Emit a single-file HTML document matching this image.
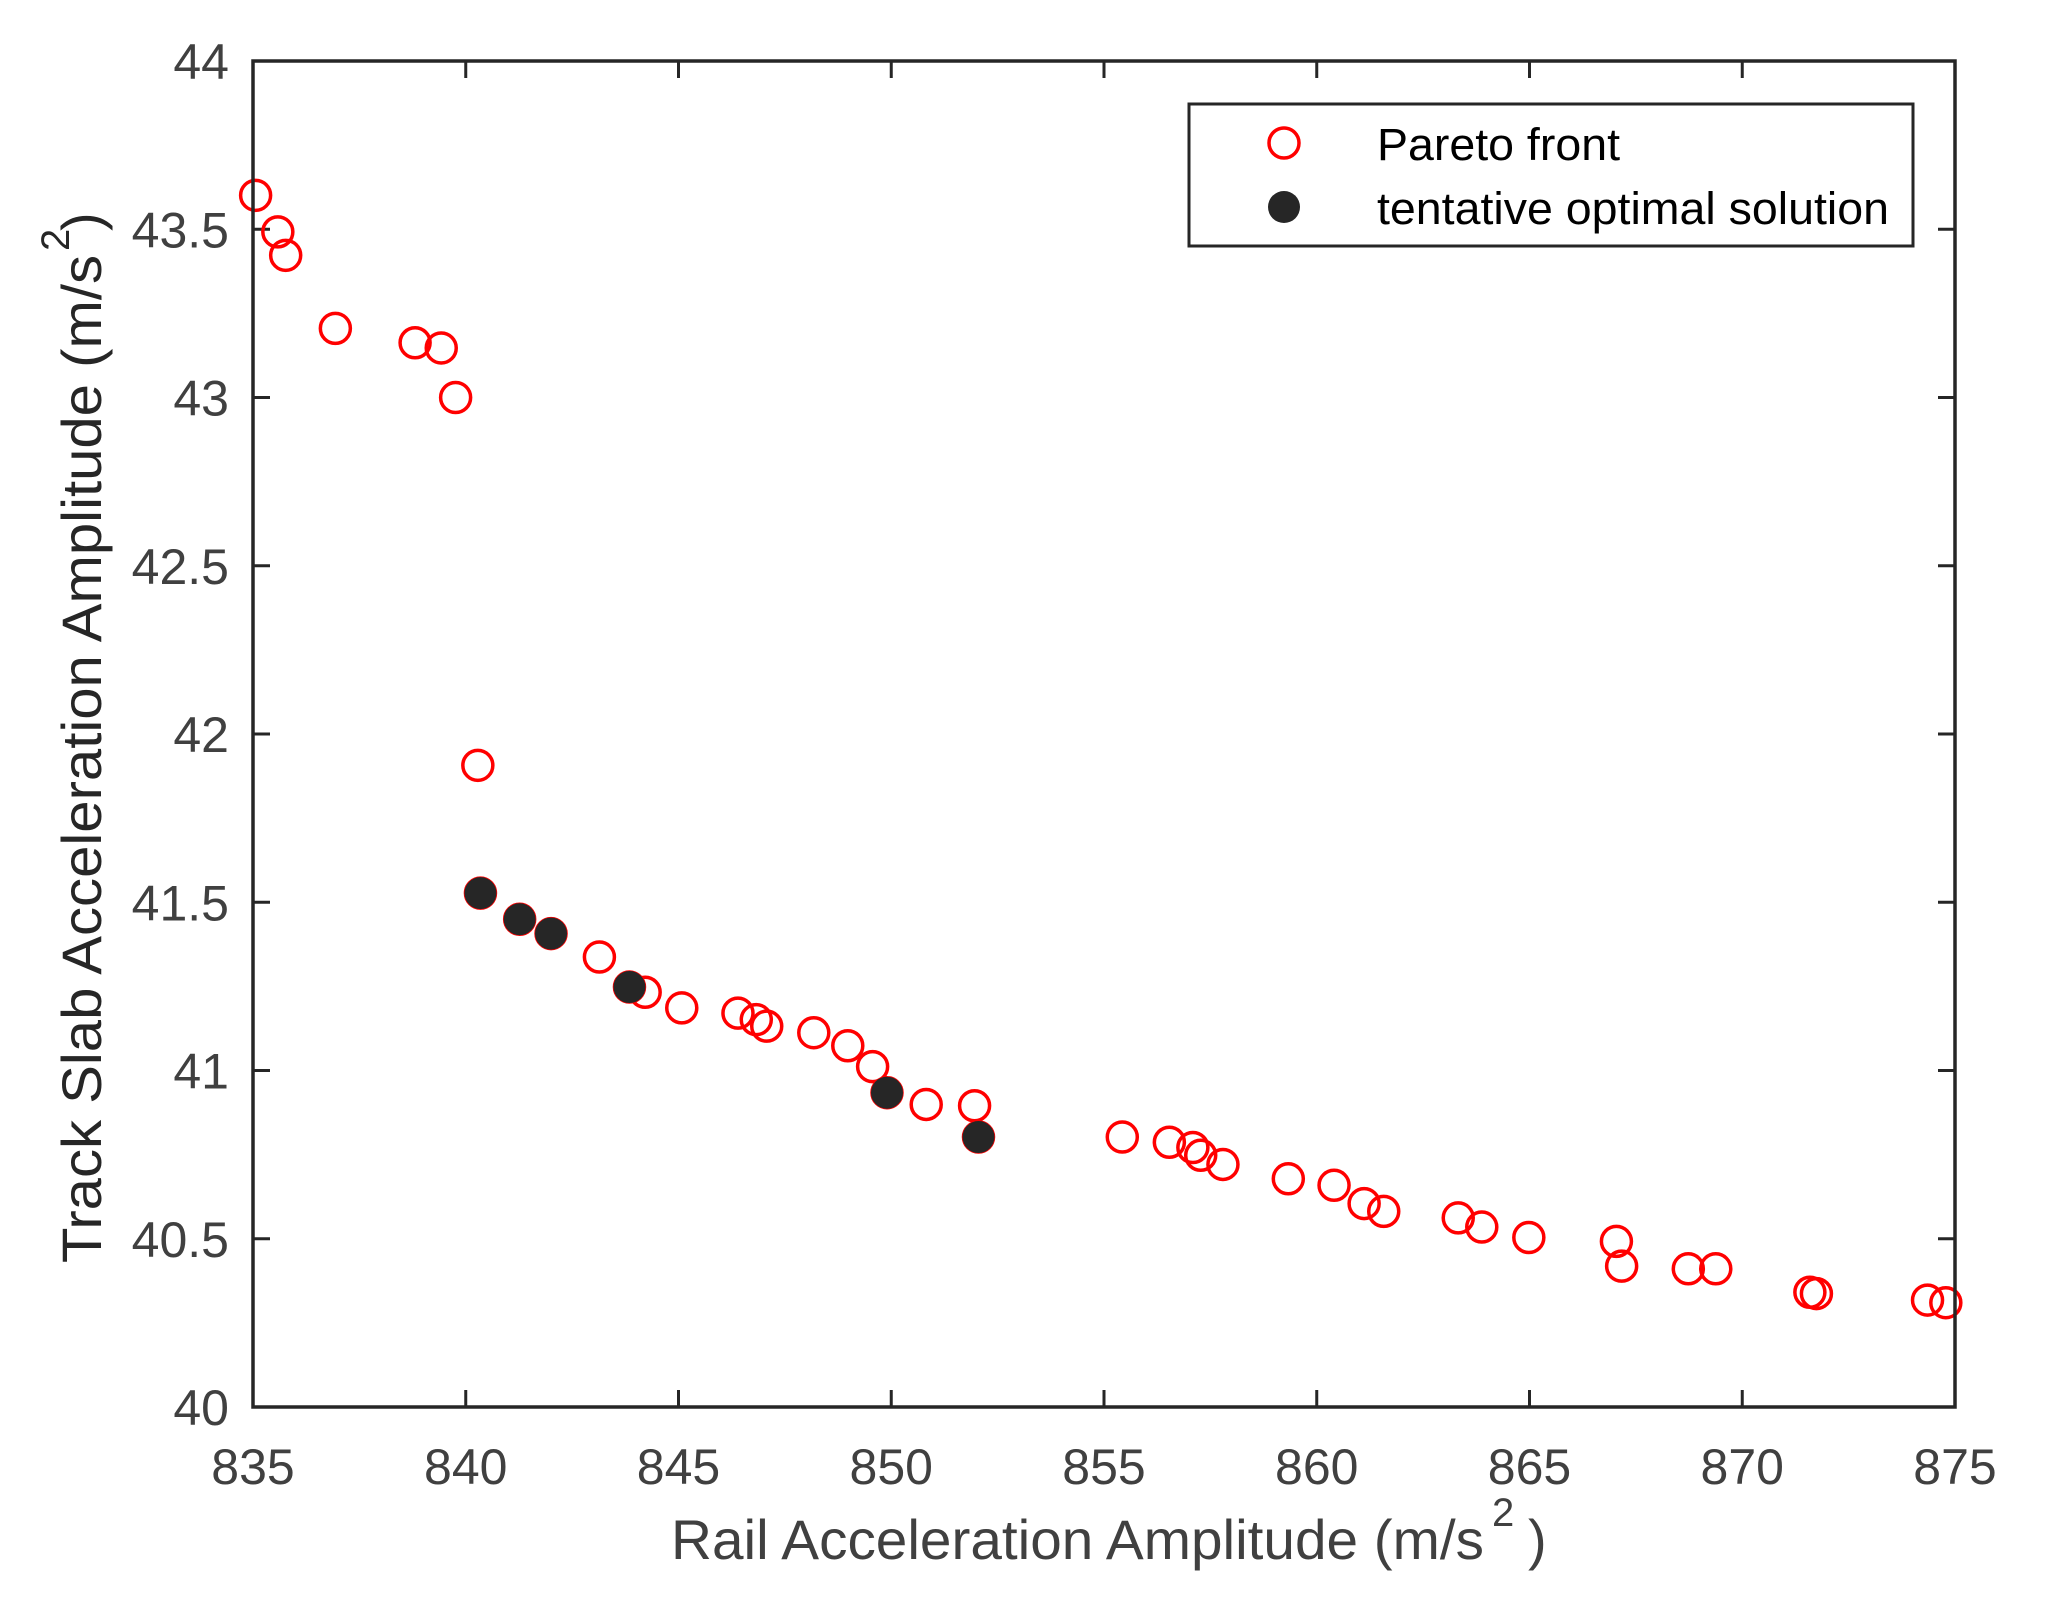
<!DOCTYPE html>
<html><head><meta charset="utf-8"><style>
html,body{margin:0;padding:0;background:#fff;}
svg{display:block;}
</style></head><body>
<svg id="s" width="2046" height="1615" xmlns="http://www.w3.org/2000/svg" font-family="Liberation Sans, Arial, sans-serif">
<rect width="2046" height="1615" fill="#fff"/>
<g id="ticks" stroke="#262626" stroke-width="3"></g>
<g id="pts"></g>
<rect x="253" y="61" width="1702" height="1346" fill="none" stroke="#262626" stroke-width="3.5"/>
<g id="lbl" fill="#404040" font-size="50"></g>
<text x="671" y="1559" font-size="56" fill="#404040" textLength="813" lengthAdjust="spacingAndGlyphs">Rail Acceleration Amplitude (m/s</text>
<text x="1492" y="1526" font-size="40" fill="#404040">2</text>
<text x="1528" y="1559" font-size="56" fill="#404040">)</text>
<g transform="translate(101,1263) rotate(-90)">
<text x="0" y="0" font-size="56" fill="#262626" textLength="1008" lengthAdjust="spacingAndGlyphs">Track Slab Acceleration Amplitude (m/s</text>
<text x="1012" y="-32" font-size="40" fill="#262626">2</text>
<text x="1032" y="0" font-size="56" fill="#262626">)</text>
</g>
<rect x="1189" y="104" width="724" height="142" fill="#fff" stroke="#262626" stroke-width="3"/>
<circle cx="1284" cy="143" r="15" fill="none" stroke="#ff0000" stroke-width="3.5"/>
<circle cx="1284" cy="207" r="16" fill="#262626"/>
<text x="1377" y="160" font-size="45" fill="#000" textLength="243" lengthAdjust="spacingAndGlyphs">Pareto front</text>
<text x="1377" y="224" font-size="45" fill="#000" textLength="512" lengthAdjust="spacingAndGlyphs">tentative optimal solution</text>
</svg>
<script>
var NS="http://www.w3.org/2000/svg";
function el(t,a,p){var e=document.createElementNS(NS,t);for(var k in a)e.setAttribute(k,a[k]);p.appendChild(e);return e;}
var L=253,R=1955,T=61,B=1407;
function X(v){return L+(v-835)*(R-L)/40;}
function Y(v){return B-(v-40)*(B-T)/4;}
var tk=document.getElementById('ticks'),lb=document.getElementById('lbl');
for(var v=835;v<=875;v+=5){var x=X(v);
 el('line',{x1:x,y1:B,x2:x,y2:B-17},tk);el('line',{x1:x,y1:T,x2:x,y2:T+17},tk);
 var t=el('text',{x:x,y:1484,'text-anchor':'middle'},lb);t.textContent=v;}
for(var i=0;i<=8;i++){var v=40+i*0.5,y=Y(v);
 el('line',{x1:L,y1:y,x2:L+17,y2:y},tk);el('line',{x1:R,y1:y,x2:R-17,y2:y},tk);
 var t=el('text',{x:229,y:y+18,'text-anchor':'end'},lb);t.textContent=(v%1===0?v:v.toFixed(1));}
var P=[[197,149],[214,177],[220,195],[258,251],[319,262],[339,266],[350,304],[367,586],[369,684],[399,704],[423,715],[460,733],[483,756],[495,760],[523,772],[566,776],[580,781],[588,786],[624,791],[650,801],[669,817],[680,837],[710,846],[747,847],[750,871],[860,871],[896,875],[914,879],[920,885],[937,892],[987,903],[1022,908],[1045,922],[1060,928],[1117,933],[1135,940],[1171,948],[1238,951],[1242,970],[1293,972],[1314,972],[1386,990],[1391,991],[1476,996],[1490,998]];
var F=[[369,684],[399,704],[423,715],[483,756],[680,837],[750,871]];
function rx(d){return 253+(d-195)*1.3072;}function ry(d){return 61+(d-46)*1.3043;}
var g=document.getElementById('pts');
P.forEach(function(p){el('circle',{cx:rx(p[0]),cy:ry(p[1]),r:15,fill:'none',stroke:'#ff0000','stroke-width':3.5},g);});
F.forEach(function(p){el('circle',{cx:rx(p[0]),cy:ry(p[1]),r:16,fill:'#262626'},g);});
</script>
</body></html>
